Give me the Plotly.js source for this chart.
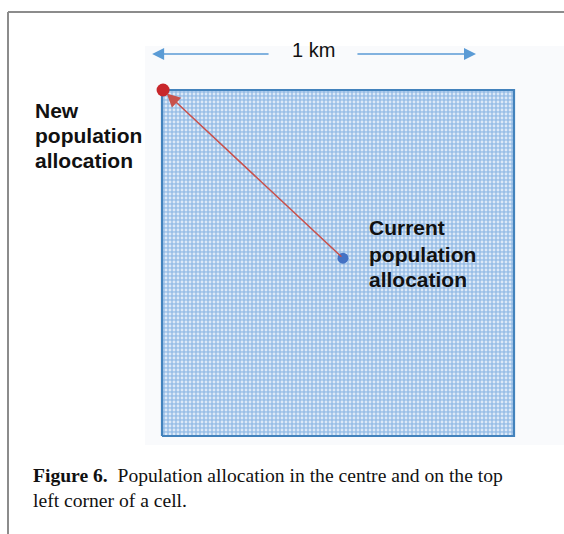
<!DOCTYPE html>
<html>
<head>
<meta charset="utf-8">
<script src="https://cdn.plot.ly/plotly-3.0.1.min.js"></script>
<style>html,body{margin:0;padding:0;background:#fff;}#chart{width:564px;height:534px;}</style>
</head>
<body>
<div id="chart"></div>
<script>
// ---- data (km units, cell of 1 km x 1 km) ----
const cellX = [0, 1, 1, 0, 0];
const cellY = [0, 0, 1, 1, 0];
const currentX = [0.514];
const currentY = [0.514];
const newX = [0.003];
const newY = [1.0];
const scaleLabel = '1 km';
const scaleLeftX = [-0.028, 0.307];
const scaleRightX = [0.551, 0.892];
const scaleY = [1.104];
const newLabelLines = ['New', 'population', 'allocation'];
const currentLabelLines = ['Current', 'population', 'allocation'];
const captionBold = 'Figure 6.';
const captionLines = ['Population allocation in the centre and on the top', 'left corner of a cell.'];

const W = 564, H = 534;
const px = x => x / W;
const py = y => 1 - y / H;

const traces = [
  {
    x: cellX, y: cellY, mode: 'lines', fill: 'toself',
    fillcolor: '#9abfe7',
    fillpattern: {shape: '.', fgcolor: '#dde9f7', bgcolor: '#9abfe7', size: 4, solidity: 0.4},
    line: {color: '#4382bc', width: 2.2},
    hoverinfo: 'skip', showlegend: false
  },
  {
    x: currentX, y: currentY, mode: 'markers',
    marker: {color: '#4472c4', size: 11},
    hoverinfo: 'skip', showlegend: false
  },
  {
    x: newX, y: newY, mode: 'markers',
    marker: {color: '#c8262b', size: 13},
    hoverinfo: 'skip', showlegend: false
  }
];

const annotations = [];
// red arrow from current to new
annotations.push({
  x: newX[0], y: newY[0], ax: currentX[0], ay: currentY[0],
  xref: 'x', yref: 'y', axref: 'x', ayref: 'y',
  text: '', showarrow: true, arrowhead: 2, arrowsize: 1.8, arrowwidth: 1.5,
  arrowcolor: '#c8514c', standoff: 5
});
// 1 km dimension arrows
annotations.push({
  x: scaleLeftX[0], y: scaleY[0], ax: scaleLeftX[1], ay: scaleY[0],
  xref: 'x', yref: 'y', axref: 'x', ayref: 'y',
  text: '', showarrow: true, arrowhead: 2, arrowsize: 1.5, arrowwidth: 1.6, arrowcolor: '#5b9bd5'
});
annotations.push({
  x: scaleRightX[1], y: scaleY[0], ax: scaleRightX[0], ay: scaleY[0],
  xref: 'x', yref: 'y', axref: 'x', ayref: 'y',
  text: '', showarrow: true, arrowhead: 2, arrowsize: 1.5, arrowwidth: 1.6, arrowcolor: '#5b9bd5'
});
annotations.push({
  x: (scaleLeftX[1] + scaleRightX[0]) / 2, y: scaleY[0] + 0.012, xref: 'x', yref: 'y',
  text: scaleLabel, showarrow: false, xanchor: 'center', yanchor: 'middle',
  font: {family: 'Liberation Sans, Arial, sans-serif', size: 20, color: '#111'}
});
const newYs = [110, 135, 160];
newLabelLines.forEach((t, i) => annotations.push({
  x: px(33), y: py(newYs[i]), xref: 'paper', yref: 'paper', text: '<b>' + t + '</b>',
  showarrow: false, xanchor: 'left', yanchor: 'middle',
  font: {family: 'Liberation Sans, Arial, sans-serif', size: 21, color: '#111'}
}));
const curYs = [228, 254, 279];
currentLabelLines.forEach((t, i) => annotations.push({
  x: px(367), y: py(curYs[i]), xref: 'paper', yref: 'paper', text: '<b>' + t + '</b>',
  showarrow: false, xanchor: 'left', yanchor: 'middle',
  font: {family: 'Liberation Sans, Arial, sans-serif', size: 21, color: '#111'}
}));
// caption
annotations.push({
  x: px(31), y: py(475), xref: 'paper', yref: 'paper',
  text: '<b>' + captionBold + '</b>  ' + captionLines[0],
  showarrow: false, xanchor: 'left', yanchor: 'middle',
  font: {family: 'Liberation Serif, Times New Roman, serif', size: 19.6, color: '#111'}
});
annotations.push({
  x: px(31), y: py(500), xref: 'paper', yref: 'paper',
  text: captionLines[1],
  showarrow: false, xanchor: 'left', yanchor: 'middle',
  font: {family: 'Liberation Serif, Times New Roman, serif', size: 19.6, color: '#111'}
});

const shapes = [
  {type: 'rect', xref: 'paper', yref: 'paper', x0: px(145), x1: px(564), y0: py(445), y1: py(46),
   fillcolor: '#f9fafc', line: {width: 0}, layer: 'below'},
  {type: 'line', xref: 'paper', yref: 'paper', x0: px(8), x1: px(564), y0: py(12), y1: py(12),
   line: {color: '#8c8c8c', width: 2}},
  {type: 'line', xref: 'paper', yref: 'paper', x0: px(8), x1: px(8), y0: py(12), y1: py(534),
   line: {color: '#8c8c8c', width: 2}}
];

const layout = {
  width: W, height: H,
  margin: {l: 0, r: 0, t: 0, b: 0},
  paper_bgcolor: '#ffffff', plot_bgcolor: 'rgba(0,0,0,0)',
  xaxis: {range: [-162 / 352, 402 / 352], visible: false, fixedrange: true},
  yaxis: {range: [-98 / 346, 1 + 90 / 346], visible: false, fixedrange: true},
  annotations: annotations, shapes: shapes, showlegend: false
};

Plotly.newPlot('chart', traces, layout, {staticPlot: true, displayModeBar: false});
</script>
</body>
</html>
